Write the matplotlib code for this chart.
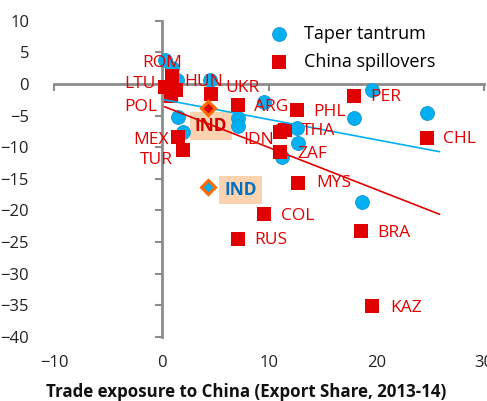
import matplotlib
matplotlib.use("Agg")
import matplotlib.pyplot as plt

plt.rcParams['font.family'] = ['Open Sans', 'DejaVu Sans']

# Taper tantrum (blue circles): trade exposure vs. response
taper_x = [0.3, 0.95, 1.4, 4.5, 1.55, 2.0, 7.1, 7.1, 9.5, 19.6, 17.9, 24.7,
           12.6, 11.0, 12.7, 11.2, 18.6]
taper_y = [3.8, 2.5, 0.6, 0.6, -5.2, -7.6, -5.4, -6.6, -2.8, -0.95, -5.3, -4.6,
           -7.0, -7.3, -9.4, -11.5, -18.7]

# China spillovers (red squares)
china_x = [1.0, 0.3, 1.3, 0.9, 4.6, 7.1, 1.55, 2.0, 7.1, 9.55, 18.55, 19.6,
           12.7, 17.9, 12.6, 24.7, 11.0, 11.5, 11.0]
china_y = [1.2, -0.5, -1.0, -1.9, -1.6, -3.3, -8.4, -10.4, -24.5, -20.6, -23.3,
           -35.1, -15.6, -1.85, -4.1, -8.5, -7.6, -7.3, -10.7]

# India, highlighted separately
ind_x = [4.3, 4.35]
ind_y = [-3.75, -16.25]

# trend lines (end points)
trend_x = [0.3, 25.85]
taper_trend = [-2.5, -10.7]
china_trend = [-3.6, -20.6]

# country labels and where they sit
labels = ['ROM', 'LTU', 'HUN', 'UKR', 'POL', 'ARG', 'MEX', 'TUR', 'IDN', 'THA',
          'PHL', 'PER', 'CHL', 'ZAF', 'MYS', 'COL', 'RUS', 'BRA', 'KAZ']
label_x = [0.1, -2.0, 3.95, 7.5, -1.9, 10.2, -1.0, -0.5, 9.0, 14.6,
           15.6, 20.9, 27.7, 14.0, 16.0, 12.65, 10.2, 21.6, 22.7]
label_y = [3.4, 0.0, 0.3, -0.6, -3.6, -3.6, -8.9, -12.0, -8.9, -7.5,
           -4.5, -2.1, -8.7, -11.0, -15.7, -20.8, -24.7, -23.5, -35.4]

blue = '#00B0F0'
red = '#E00000'
grey = '#8C8C8C'

fig = plt.figure(figsize=(4.87, 4.01), dpi=100)
ax = fig.add_axes([0.111, 0.160, 0.883, 0.788])

ax.scatter(taper_x, taper_y, s=100, c=blue, edgecolors='#1A95D0', linewidths=0.6,
           zorder=3, label='Taper tantrum')
ax.scatter(china_x, china_y, s=88, marker='s', c=red, linewidths=0,
           zorder=4, label='China spillovers')
ax.plot(trend_x, taper_trend, color=blue, lw=1.2, zorder=5)
ax.plot(trend_x, china_trend, color=red, lw=1.2, zorder=5)
ax.plot(ind_x[:1], ind_y[:1], 'D', ms=7, mfc=red, mec='#FF6A00', mew=2.2, zorder=6)
ax.plot(ind_x[1:], ind_y[1:], 'D', ms=7, mfc=blue, mec='#FF6A00', mew=2.2, zorder=6)

for name, lx, ly in zip(labels, label_x, label_y):
    ax.text(lx, ly, name, color=red, fontsize=12.5, ha='center', va='center', zorder=7)

box = dict(boxstyle='square,pad=0.3', facecolor='#FBD3B0', edgecolor='none')
ax.text(4.6, -6.6, 'IND', color='#D00000', fontsize=12.5, fontweight='bold',
        ha='center', va='center', bbox=box, zorder=2)
ax.text(7.35, -16.8, 'IND', color='#0070C0', fontsize=12.5, fontweight='bold',
        ha='center', va='center', bbox=box, zorder=2)

ax.set_xlim(-10, 30)
ax.set_ylim(-40, 10)
ax.set_xticks([-10, 0, 10, 20, 30])
ax.set_yticks(range(-40, 11, 5))

# axes cross at zero, labels stay at the edges
for side in ['top', 'right']:
    ax.spines[side].set_visible(False)
ax.spines['left'].set_position(('data', 0))
ax.spines['bottom'].set_position(('data', 0))
for side in ['left', 'bottom']:
    ax.spines[side].set_color(grey)
    ax.spines[side].set_linewidth(2)
ax.tick_params(axis='both', colors=grey, width=1.5, length=5,
               labelleft=False, labelbottom=False)

secx = ax.secondary_xaxis('bottom')
secx.set_xticks([-10, 0, 10, 20, 30])
secx.spines['bottom'].set_visible(False)
secx.tick_params(length=0, labelsize=12, labelcolor='#222222', pad=13)
secy = ax.secondary_yaxis('left')
secy.set_yticks(range(-40, 11, 5))
secy.spines['left'].set_visible(False)
secy.tick_params(length=0, labelsize=12, labelcolor='#222222', pad=18)

fig.text(246 / 487, 1 - 392 / 401, 'Trade exposure to China (Export Share, 2013-14)',
         fontsize=12.2, fontweight='bold', ha='center', va='center', color='#111111')

ax.legend(loc='upper left', bbox_to_anchor=(0.465, 1.01), frameon=False, fontsize=13,
          handletextpad=0.35, labelspacing=0.55, borderaxespad=0.0)

fig.savefig('out.png', dpi=100)
